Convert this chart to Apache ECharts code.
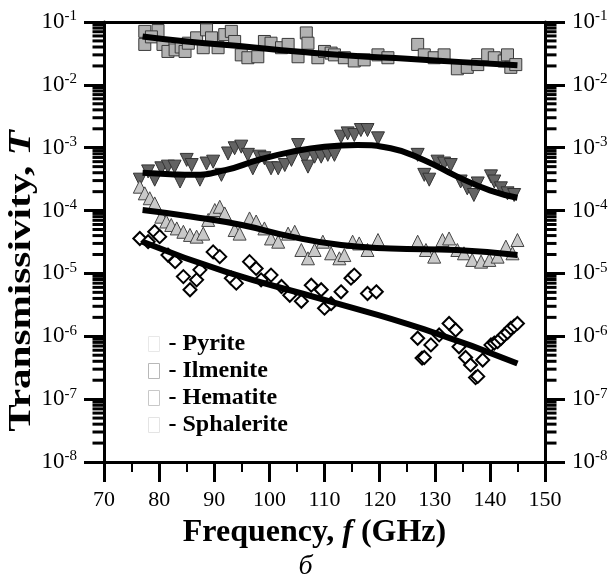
<!DOCTYPE html>
<html>
<head>
<meta charset="utf-8">
<script src="https://cdn.jsdelivr.net/npm/echarts@6/dist/echarts.min.js"></script>
<style>
  html, body { margin: 0; padding: 0; background: #fff; }
  #chart-container { width: 611px; height: 585px; }
</style>
</head>
<body>
<div id="chart-container"></div>
<script>
const serif = '"Liberation Serif", "DejaVu Serif", serif';

// y decades (log10 of transmissivity)
const decades = [-8, -7, -6, -5, -4, -3, -2, -1];
const minorMults = [2, 3, 4, 5, 6, 7, 8, 9];

// Pyrite - grey squares
const sqF = [77.4, 79.8, 77.4, 78.6, 80.7, 81.6, 82.9, 84.0, 84.7, 85.3, 86.8, 88.0, 88.6, 89.5, 90.7, 91.9,
    93.1, 93.7, 94.9, 96.1, 97.9, 99.1, 100.3, 102.2, 103.4, 105.2, 106.7, 107.0, 108.8, 110.0, 111.2, 111.8,
    113.6, 115.4, 117.2, 119.7, 121.5, 126.9, 128.1, 129.9, 131.7, 134.1, 135.9, 137.8, 139.6, 140.8, 142.6,
    143.2, 143.8, 144.7];
const sqT = [0.071, 0.073, 0.044, 0.058, 0.044, 0.034, 0.036, 0.040, 0.034, 0.046, 0.056, 0.039, 0.075, 0.056, 0.039, 0.063,
    0.071, 0.049, 0.030, 0.027, 0.028, 0.049, 0.046, 0.039, 0.044, 0.028, 0.067, 0.046, 0.027, 0.034, 0.032, 0.030,
    0.027, 0.024, 0.025, 0.030, 0.027, 0.044, 0.030, 0.027, 0.030, 0.018, 0.019, 0.021, 0.030, 0.027, 0.024,
    0.030, 0.019, 0.021];

// Ilmenite - dark grey down triangles
const dtF = [76.5, 78.0, 79.2, 80.4, 81.6, 82.8, 83.8, 85.0, 85.9, 87.4, 88.6, 89.8, 91.3, 92.5, 93.7, 94.9,
    96.1, 97.0, 98.2, 99.1, 100.3, 101.6, 102.8, 104.0, 105.2, 106.4, 107.0, 108.2, 109.4, 110.6, 111.8, 113.0,
    114.2, 115.4, 116.6, 117.8, 119.7, 126.9, 128.1, 129.0, 130.5, 131.7, 132.9, 134.7, 135.9, 137.1, 137.8,
    140.2, 140.8, 142.0, 143.2, 144.4];
const dtT = [3.1e-4, 4.2e-4, 3.1e-4, 4.7e-4, 5.0e-4, 5.0e-4, 2.9e-4, 6.4e-4, 5.3e-4, 3.1e-4, 5.6e-4, 6.0e-4, 3.7e-4, 8.1e-4, 9.8e-4, 1.04e-3,
    7.7e-4, 4.7e-4, 7.2e-4, 6.8e-4, 4.7e-4, 4.7e-4, 5.3e-4, 6.4e-4, 1.10e-3, 6.8e-4, 5.0e-4, 7.2e-4, 7.2e-4, 7.7e-4, 7.7e-4, 1.50e-3,
    1.69e-3, 1.59e-3, 1.91e-3, 1.91e-3, 1.41e-3, 7.7e-4, 3.7e-4, 3.1e-4, 6.0e-4, 5.6e-4, 5.3e-4, 2.9e-4, 2.26e-4, 1.77e-4, 2.7e-4,
    3.5e-4, 2.9e-4, 2.26e-4, 1.88e-4, 1.77e-4];

// Hematite - open diamonds
const dmF = [76.5, 78.0, 79.2, 80.1, 81.6, 82.9, 84.4, 85.6, 86.8, 87.4, 89.8, 91.0, 93.1, 94.0, 96.4, 97.6,
    98.5, 100.3, 102.2, 103.7, 105.8, 107.6, 109.4, 110.0, 111.2, 113.0, 114.8, 115.4, 117.8, 119.4, 126.9, 127.7,
    128.1, 129.3, 130.8, 132.6, 133.8, 134.4, 135.6, 136.5, 137.4, 137.8, 138.7, 140.2, 140.8, 141.4, 142.0, 142.6,
    143.2, 143.8, 144.4, 145.0];
const dmT = [3.6e-5, 3.2e-5, 4.6e-5, 3.85e-5, 1.96e-5, 1.54e-5, 8.9e-6, 5.5e-6, 7.9e-6, 1.14e-5, 2.2e-5, 1.85e-5, 8.4e-6, 7.0e-6, 1.54e-5, 1.2e-5,
    7.9e-6, 9.4e-6, 6.2e-6, 4.5e-6, 3.6e-6, 6.5e-6, 5.5e-6, 2.8e-6, 3.3e-6, 5.1e-6, 8.4e-6, 9.4e-6, 4.8e-6, 5.1e-6, 9.3e-7, 4.5e-7,
    4.6e-7, 7.3e-7, 1.05e-6, 1.6e-6, 1.26e-6, 6.8e-7, 4.6e-7, 3.5e-7, 2.2e-7, 2.3e-7, 4.2e-7, 7.3e-7, 7.8e-7, 8.2e-7, 9.2e-7, 1.05e-6,
    1.15e-6, 1.34e-6, 1.45e-6, 1.6e-6];

// Sphalerite - light grey up triangles
const utF = [76.5, 77.4, 78.3, 79.2, 80.4, 81.3, 82.2, 83.2, 84.4, 85.6, 86.8, 88.0, 88.9, 90.1, 91.0, 91.9,
    93.7, 94.6, 96.4, 97.6, 99.1, 100.3, 101.6, 103.4, 104.6, 105.8, 107.0, 108.2, 109.7, 111.2, 112.7, 113.6,
    115.1, 116.3, 117.8, 119.7, 126.9, 128.4, 129.9, 131.4, 132.6, 134.1, 135.3, 136.8, 138.4, 139.9, 141.4,
    142.9, 144.1, 145.0];
const utT = [2.4e-4, 1.88e-4, 1.57e-4, 1.30e-4, 8.0e-5, 6.7e-5, 5.9e-5, 5.2e-5, 4.6e-5, 4.1e-5, 3.85e-5, 4.3e-5, 7.1e-5, 1.02e-4, 1.15e-4, 9.0e-5,
    4.9e-5, 4.3e-5, 7.5e-5, 6.7e-5, 5.2e-5, 3.6e-5, 3.2e-5, 4.3e-5, 4.6e-5, 2.36e-5, 1.74e-5, 2.36e-5, 3.2e-5, 2.09e-5, 1.74e-5, 1.96e-5,
    3.2e-5, 3.0e-5, 2.36e-5, 3.4e-5, 3.2e-5, 2.36e-5, 1.85e-5, 3.4e-5, 3.6e-5, 2.36e-5, 2.09e-5, 1.64e-5, 1.54e-5, 1.64e-5, 1.85e-5,
    2.67e-5, 2.09e-5, 3.4e-5];

// fitted curves (thick black)
const sqFitF = [77, 85, 95, 105, 115, 125, 135, 145];
const sqFitT = [0.059, 0.049, 0.041, 0.034, 0.029, 0.026, 0.023, 0.0205];
const dtFitF = [77, 82, 86, 92, 98, 104, 110, 116, 122, 128, 134, 140, 145];
const dtFitT = [4.0e-4, 3.8e-4, 3.7e-4, 4.4e-4, 6.4e-4, 8.6e-4, 1.04e-3, 1.10e-3, 9.8e-4, 6.4e-4, 3.5e-4, 2.1e-4, 1.6e-4];
const dmFitF = [77, 92, 110, 128, 145];
const dmFitT = [3.2e-5, 1.07e-5, 3.8e-6, 1.3e-6, 3.7e-7];
const utFitF = [77, 86, 95, 104, 113, 122, 134, 145];
const utFitT = [1.02e-4, 8.0e-5, 5.9e-5, 3.85e-5, 2.83e-5, 2.5e-5, 2.36e-5, 1.96e-5];

const toPts = (fs, ts) => fs.map((f, i) => [f, Math.log10(ts[i])]);

// minor ticks of a log axis, in log10 units
const minorVals = [];
for (let i = 0; i < decades.length - 1; i++) {
    for (let j = 0; j < minorMults.length; j++) {
        minorVals.push(decades[i] + Math.log10(minorMults[j]));
    }
}

const logLabel = {
    fontFamily: serif,
    color: '#000',
    formatter: v => '{b|10}{s|' + v + '}',
    rich: {
        b: {fontFamily: serif, fontSize: 23, color: '#000', lineHeight: 26},
        s: {fontFamily: serif, fontSize: 15, color: '#000', lineHeight: 26, verticalAlign: 'top'},
    },
};

function majorY(pos, margin) {
    return {
        type: 'value', position: pos, min: -8, max: -1, interval: 1,
        axisLine: {show: true, onZero: false, lineStyle: {color: '#000', width: 3}},
        axisTick: {show: true, length: 20, lineStyle: {color: '#000', width: 3}},
        axisLabel: Object.assign({margin: margin}, logLabel),
        splitLine: {show: false},
    };
}

const mineral = (name, symbol, size, fill, border, bw, fs, ts, rotate) => ({
    name, type: 'scatter', symbol, symbolSize: size, symbolRotate: rotate || 0,
    itemStyle: {color: fill, borderColor: border, borderWidth: bw, opacity: 1},
    data: toPts(fs, ts),
    z: 2,
});
const fit = (fs, ts) => ({
    type: 'line', smooth: true, showSymbol: false, silent: true,
    lineStyle: {color: '#000', width: 6},
    data: toPts(fs, ts),
    z: 3,
});
// short outward tick marks at the log minor positions, on the left or right frame
const minorTicks = (fx, dx) => ({
    type: 'scatter', silent: true, clip: false, z: 6,
    symbol: 'rect', symbolSize: [11, 3], symbolOffset: [dx, 0],
    itemStyle: {color: '#000', opacity: 1},
    data: minorVals.map(v => [fx, v]),
});

const titleRich = size => ({
    n: {fontFamily: serif, fontWeight: 'bold', fontSize: size, color: '#000'},
    i: {fontFamily: serif, fontWeight: 'bold', fontStyle: 'italic', fontSize: size, color: '#000'},
});

let chart_options = {
    animation: false,
    title: {
        text: 'б', left: 'center', top: 548,
        textStyle: {fontFamily: serif, fontStyle: 'italic', fontWeight: 'normal', fontSize: 28, color: '#000'},
    },
    legend: {
        orient: 'vertical', left: 143, top: 327,
        itemWidth: 11, itemHeight: 15, itemGap: 3, icon: 'rect', selectedMode: false,
        formatter: n => '- ' + n,
        textStyle: {fontFamily: serif, fontWeight: 'bold', fontSize: 24, color: '#000', padding: [0, 0, 0, 4]},
        data: [
            {name: 'Pyrite', itemStyle: {color: '#fff', borderColor: '#e8e8e8', borderWidth: 1}},
            {name: 'Ilmenite', itemStyle: {color: '#fff', borderColor: '#b8b8b8', borderWidth: 1}},
            {name: 'Hematite', itemStyle: {color: '#fff', borderColor: '#c8c8c8', borderWidth: 1}},
            {name: 'Sphalerite', itemStyle: {color: '#fff', borderColor: '#e4e4e4', borderWidth: 1}},
        ],
    },
    grid: {left: 104, right: 66, top: 22, bottom: 123},
    graphic: [{
        // y title, stretched along its length like the original
        type: 'text', silent: true, x: 22, y: 281, rotation: Math.PI / 2, scaleX: 1.33,
        style: {text: '{n|Transmissivity, }{i|T}', rich: titleRich(31), align: 'center', verticalAlign: 'middle'},
    }],
    xAxis: [{
        type: 'value', position: 'bottom', min: 70, max: 150, interval: 10,
        name: '{n|Frequency, }{i|f}{n| (GHz)}', nameLocation: 'middle', nameGap: 55,
        nameTextStyle: {padding: [0, 20, 0, 0], rich: titleRich(32)},
        axisLine: {onZero: false, lineStyle: {color: '#000', width: 3}},
        axisTick: {length: 20, lineStyle: {color: '#000', width: 3}},
        minorTick: {show: true, splitNumber: 2, length: 10, lineStyle: {color: '#000', width: 2}},
        axisLabel: {fontFamily: serif, fontSize: 22, color: '#000', margin: 27},
        splitLine: {show: false},
    }, {
        type: 'value', position: 'top', min: 70, max: 150,
        axisLine: {onZero: false, lineStyle: {color: '#000', width: 3}},
        axisTick: {show: false}, axisLabel: {show: false}, splitLine: {show: false},
    }],
    yAxis: [majorY('left', 27), majorY('right', 27)],
    series: [
        mineral('Pyrite', 'rect', 12, '#b2b2b2', '#3a3a3a', 1, sqF, sqT),
        mineral('Ilmenite', 'triangle', 13, '#636363', '#333333', 1, dtF, dtT, 180),
        mineral('Sphalerite', 'triangle', 13, '#c9c9c9', '#444444', 1, utF, utT),
        mineral('Hematite', 'diamond', 13, '#ffffff', '#000000', 2, dmF, dmT),
        fit(sqFitF, sqFitT),
        fit(dtFitF, dtFitT),
        fit(utFitF, utFitT),
        fit(dmFitF, dmFitT),
        minorTicks(70, -6),
        minorTicks(150, 6),
    ],
};

const chart = echarts.init(document.getElementById('chart-container'), null, {renderer: 'canvas'});
chart.setOption(chart_options);
</script>
</body>
</html>
